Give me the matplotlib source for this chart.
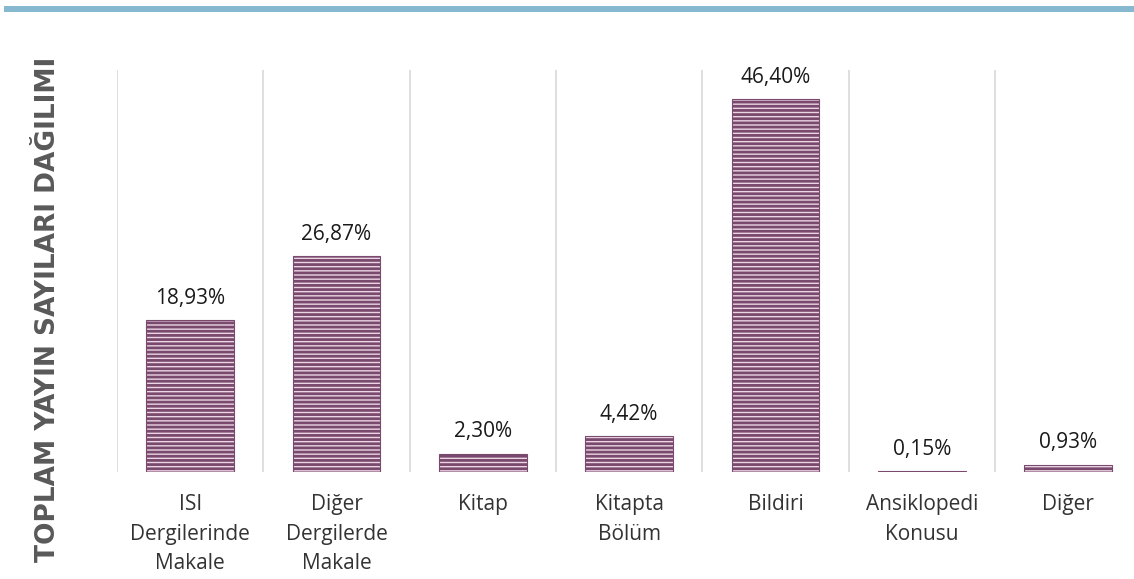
import matplotlib.pyplot as plt
from matplotlib.patches import Rectangle

categories = ['ISI\nDergilerinde\nMakale', 'Diğer\nDergilerde\nMakale', 'Kitap',
              'Kitapta\nBölüm', 'Bildiri', 'Ansiklopedi\nKonusu', 'Diğer']
values = [18.93, 26.87, 2.30, 4.42, 46.40, 0.15, 0.93]
value_labels = ['18,93%', '26,87%', '2,30%', '4,42%', '46,40%', '0,15%', '0,93%']
y_title = 'TOPLAM YAYIN SAYILARI DAĞILIMI'

plt.rcParams['font.family'] = ['Open Sans', 'DejaVu Sans']
plt.rcParams['hatch.linewidth'] = 2.0
plt.rcParams['hatch.color'] = '#7a4a6e'

fig = plt.figure(figsize=(11.34, 5.79), dpi=100)
ax = fig.add_axes([0.1032, 0.1848, 0.9032, 0.694])

x = list(range(len(categories)))
bars = ax.bar(x, values, width=0.6, color='#ecd6e4', edgecolor='#7a4a6e',
              linewidth=0.8, hatch='----', zorder=3)

for b, lab in zip(bars, value_labels):
    ax.annotate(lab, (b.get_x() + b.get_width() / 2, b.get_height()),
                xytext=(0, 8), textcoords='offset points', ha='center', va='bottom',
                fontsize=15, color='#1a1a1a')

ax.set_xlim(-0.5, len(categories) - 0.5)
ax.set_ylim(0, 50)
ax.set_xticks(x)
ax.set_xticklabels(categories, fontsize=15, color='#333333', linespacing=1.52)
ax.tick_params(axis='x', length=0, pad=16)
ax.set_yticks([])
ax.set_xticks([i - 0.5 for i in range(len(categories) + 1)], minor=True)
ax.tick_params(axis='x', which='minor', length=0)
ax.grid(axis='x', which='minor', color='#d9d9d9', linewidth=1.2, zorder=0)
for s in ax.spines.values():
    s.set_visible(False)

fig.text(0.042, 0.465, y_title, rotation=90, ha='center', va='center',
         fontsize=19, fontweight='bold', color='#595959', family='DejaVu Sans')

fig.add_artist(Rectangle((0.0035, 0.979), 0.9965, 0.011, transform=fig.transFigure,
                         facecolor='#86b8d0', edgecolor='none'))

fig.savefig('out.png', dpi=100)
